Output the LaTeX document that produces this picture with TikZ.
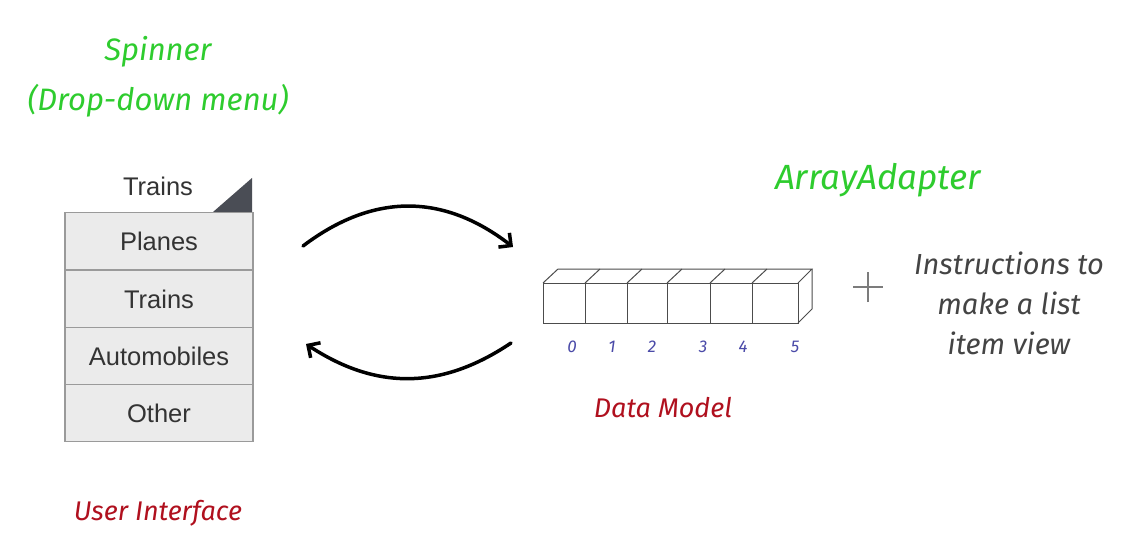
\documentclass[tikz,border=0pt]{standalone}
\usepackage{fontspec}
\setmainfont{Liberation Sans}
\newfontfamily\hand{Fira Sans}
\usetikzlibrary{arrows.meta}
\definecolor{hgreen}{HTML}{2ECC2E}
\definecolor{hred}{HTML}{B0101E}
\definecolor{hblue}{HTML}{4A4AA8}
\definecolor{hgray}{HTML}{444444}
\definecolor{rowfill}{HTML}{EBEBEB}
\definecolor{rowline}{HTML}{9A9A9A}
\definecolor{tabdark}{HTML}{4A4D55}
\tikzset{
  px/.style={x=1pt,y=-1pt},
  title/.style={text=hgreen,font=\hand\itshape\fontsize{31}{50}\selectfont,align=center},
  caption/.style={text=hred,font=\hand\itshape\fontsize{27}{30}\selectfont},
  note/.style={text=hgray,font=\hand\itshape\fontsize{29}{40}\selectfont,align=center},
  row/.style={draw=rowline,fill=rowfill,line width=1.2pt,minimum width=188pt,minimum height=57.5pt,inner sep=0pt,font=\fontsize{25.5}{28}\selectfont,text=black!80},
  idx/.style={text=hblue,font=\hand\itshape\fontsize{17}{20}\selectfont},
  flow/.style={line width=3.5pt,line cap=round,-{Straight Barb[length=9pt,width=18pt,line width=3.5pt]}},
  cell/.style={draw=black!70,line width=1pt}
}
\begin{document}
\begin{tikzpicture}[px]
\useasboundingbox (0,0) rectangle (1142,556);
\fill[white] (0,0) rectangle (1142,556);

% headings
\node[title] (spinner) at (158,77) {Spinner\\(Drop-down menu)};
\node[title,font=\hand\itshape\fontsize{35}{44}\selectfont] (adapter) at (878,180) {ArrayAdapter};

% spinner widget
\node[font=\fontsize{25.5}{28}\selectfont,text=black!80] (selected) at (158,186) {Trains};
\fill[tabdark] (213,212) -- (252,212) -- (252,178) -- cycle;
\node[row] (r1) at (159,241) {Planes};
\node[row] (r2) at (159,299) {Trains};
\node[row] (r3) at (159,356) {Automobiles};
\node[row] (r4) at (159,413) {Other};

% data model array
\draw[cell] (543,283) rectangle (798,323);
\draw[cell] (543,283) -- (558,269) -- (812,269) -- (798,283);
\draw[cell] (812,269) -- (812,309) -- (798,323);
\foreach \x in {585,627,667,710,752}{
  \draw[cell] (\x,283) -- (\x,323);
  \draw[cell] (\x,283) -- ({\x+15},269);
}
\node[idx] (i0) at (572,347) {0};
\node[idx] (i1) at (612,347) {1};
\node[idx] (i2) at (652,347) {2};
\node[idx] (i3) at (703,347) {3};
\node[idx] (i4) at (743,347) {4};
\node[idx] (i5) at (795,347) {5};

% captions
\node[caption] (dm) at (663,408) {Data Model};
\node[caption] (ui) at (158,513) {User Interface};

% plus and instructions
\coordinate (plus) at (868,287);
\draw[hgray!70,line width=1.4pt] ([xshift=-15pt]plus) -- ([xshift=15pt]plus)
  ([yshift=-15pt]plus) -- ([yshift=15pt]plus);
\node[note] (instr) at (1009,303) {Instructions to\\make a list\\item view};

% exchange arrows
\coordinate (a1) at (303,246);
\coordinate (a2) at (513,247);
\coordinate (b1) at (511,343);
\coordinate (b2) at (306,344);
\draw[flow] (a1) .. controls (373,193) and (443,193) .. (a2);
\draw[flow] (b1) .. controls (441,390) and (376,390) .. (b2);
\end{tikzpicture}
\end{document}
